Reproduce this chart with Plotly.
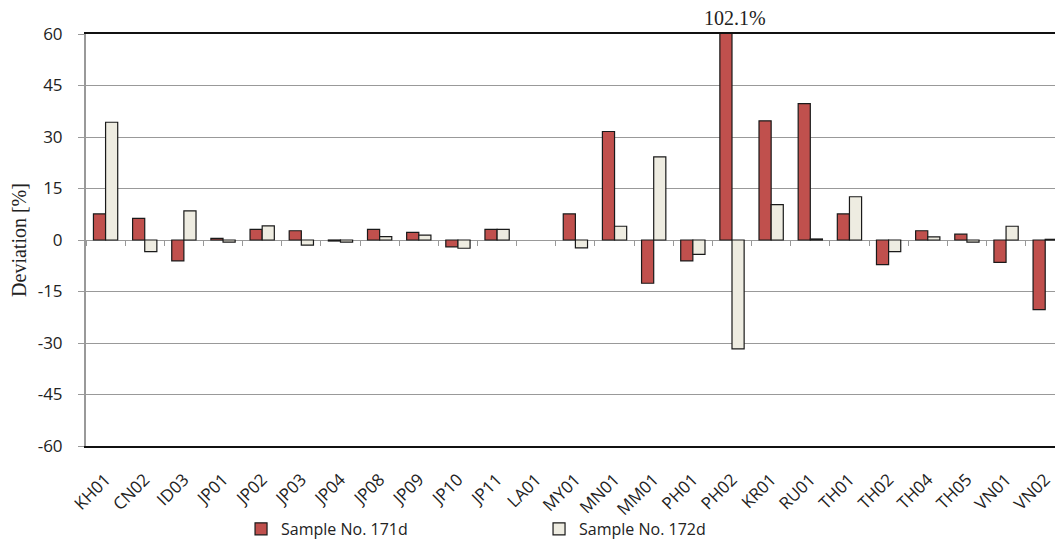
import plotly.graph_objects as go

categories = ["KH01", "CN02", "ID03", "JP01", "JP02", "JP03", "JP04", "JP08", "JP09", "JP10",
              "JP11", "LA01", "MY01", "MN01", "MM01", "PH01", "PH02", "KR01", "RU01", "TH01",
              "TH02", "TH04", "TH05", "VN01", "VN02"]
sample_171d = [7.6, 6.3, -6.1, 0.5, 3.1, 2.7, -0.3, 3.1, 2.2, -2.0,
               3.1, None, 7.6, 31.6, -12.6, -6.1, 102.1, 34.7, 39.7, 7.6,
               -7.2, 2.7, 1.7, -6.5, -20.3]
sample_172d = [34.3, -3.4, 8.5, -0.6, 4.1, -1.5, -0.6, 1.0, 1.4, -2.4,
               3.1, None, -2.3, 4.0, 24.2, -4.2, -31.7, 10.3, 0.3, 12.6,
               -3.4, 0.9, -0.6, 4.0, 0.2]
y_ticks = [-60, -45, -30, -15, 0, 15, 30, 45, 60]
y_tick_labels = ["-60", "-45", "-30", "-15", "0", "15", "30", "45", "60"]

fig = go.Figure()
fig.add_trace(go.Bar(x=categories, y=sample_171d, name="Sample No. 171d",
                     marker=dict(color="#C0504D", line=dict(color="#1a1a1a", width=1.2))))
fig.add_trace(go.Bar(x=categories, y=sample_172d, name="Sample No. 172d",
                     marker=dict(color="#EEECE1", line=dict(color="#1a1a1a", width=1.2))))

# invisible trace on overlay axis for the zero-line ticks
fig.add_trace(go.Scatter(x=categories, y=[0] * len(categories), xaxis="x2", mode="markers",
                         marker=dict(opacity=0), showlegend=False, hoverinfo="skip"))

fig.add_annotation(x="PH02", y=60, text="102.1%", showarrow=False, yanchor="bottom", yshift=3,
                   xshift=3, font=dict(family="Liberation Serif", size=20, color="#222"))

fig.update_layout(
    width=1055, height=545,
    margin=dict(l=86, r=0, t=34, b=99, autoexpand=False),
    plot_bgcolor="white", paper_bgcolor="white",
    barmode="group", bargap=0.38, bargroupgap=0.0,
    showlegend=True,
    legend=dict(orientation="h", x=0.16, y=-0.16, xanchor="left", yanchor="top",
                bgcolor="rgba(0,0,0,0)",
                font=dict(family="Open Sans", size=16, color="#222"),
                itemwidth=30, entrywidth=253, entrywidthmode="pixels"),
    xaxis=dict(range=[-0.5, 24.25], tickangle=-45, showgrid=False,
               showline=True, linecolor="#111", linewidth=2, mirror=True,
               ticks="outside", ticklen=15, tickcolor="rgba(0,0,0,0)", automargin=False,
               tickfont=dict(family="Open Sans", size=17, color="#222")),
    xaxis2=dict(range=[-0.5, 24.25], overlaying="x", anchor="free", position=0.5,
                showline=False, ticks="outside", tickson="boundaries", ticklen=5,
                tickcolor="#999", showticklabels=False, showgrid=False, side="bottom"),
    yaxis=dict(range=[-60, 60], tickvals=y_ticks, ticktext=y_tick_labels, showgrid=True, gridcolor="#999",
               gridwidth=1.2, zeroline=True, zerolinecolor="#999", zerolinewidth=1.2,
               showline=True, linecolor="#999", linewidth=2, ticks="outside", ticklen=6,
               tickcolor="#999", ticklabelstandoff=12, automargin=False,
               tickfont=dict(family="Open Sans", size=17, color="#222"),
               title=dict(text="Deviation [%]", font=dict(family="Liberation Serif", size=20, color="#222"),
                          standoff=6)),
)

fig.write_html("out.html", config={"displayModeBar": False},
               post_script="document.body.style.margin='0';document.body.style.padding='0';")
